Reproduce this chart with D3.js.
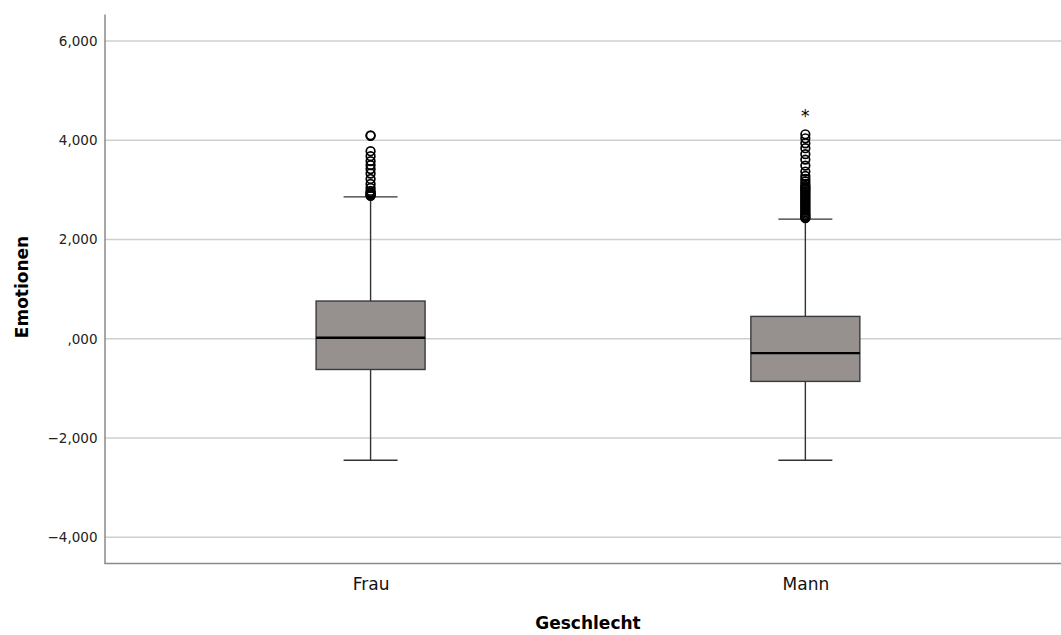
<!DOCTYPE html>
<html>
<head>
<meta charset="utf-8">
<script src="https://cdn.jsdelivr.net/npm/d3@7"></script>
<style>
  body { margin: 0; background: #fff; }
  text { font-family: "DejaVu Sans", sans-serif; }
</style>
</head>
<body>
<div id="chart"></div>
<script>
// box plot values
var categories = ["Frau", "Mann"];
var q1 = [-0.62, -0.86];
var median = [0.02, -0.29];
var q3 = [0.76, 0.45];
var whiskerLow = [-2.45, -2.45];
var whiskerHigh = [2.86, 2.41];
var outliersFrau = [4.10, 4.09, 3.78, 3.68, 3.58, 3.50, 3.42, 3.33, 3.22, 3.12, 3.04, 2.98, 2.95, 2.93, 2.91, 2.89, 2.88];
var outliersMann = [4.12, 4.04, 3.94, 3.84, 3.72, 3.61, 3.49, 3.37, 3.28, 3.22, 3.17, 3.12, 3.08, 3.05, 3.03,
                    3.00, 2.97, 2.94, 2.91, 2.88, 2.85, 2.82, 2.79, 2.76, 2.73, 2.70, 2.67, 2.64, 2.61,
                    2.58, 2.55, 2.52, 2.49, 2.47, 2.45, 2.43];
var extremesFrau = [];
var extremesMann = [4.57];
var yTicks = [-4, -2, 0, 2, 4, 6];

var width = 1061,
    height = 635,
    plotLeft = 104.5,
    plotTop = 14,
    plotBottom = 563.5,
    boxW = 109,
    capW = 54;

var svg = d3.select("#chart").append("svg")
    .attr("width", width)
    .attr("height", height);

var x = d3.scalePoint()
    .domain(categories)
    .range([plotLeft, width])
    .padding(0.6)
    .align(0.51);

var y = d3.scaleLinear()
    .domain([-4.53, 6.545])
    .range([plotBottom, plotTop]);

function fmt(d) {
    var a = Math.abs(d);
    return (d < 0 ? "\u2212" : "") + (a === 0 ? "" : a) + ",000";
}

// gridlines
svg.append("g")
    .selectAll("line")
    .data(yTicks)
    .enter().append("line")
    .attr("x1", plotLeft).attr("x2", width)
    .attr("y1", function(d) { return y(d); })
    .attr("y2", function(d) { return y(d); })
    .style("stroke", "#cfcfcf")
    .style("stroke-width", 1.5);

// y axis
var yAxis = svg.append("g")
    .attr("transform", "translate(" + plotLeft + ",0)")
    .call(d3.axisLeft(y).tickValues(yTicks).tickFormat(fmt).tickSize(0).tickPadding(7));
yAxis.select(".domain").style("stroke", "#8a8a8a").style("stroke-width", 1.5);
yAxis.selectAll("text").style("font-size", "13.5px").style("fill", "#222").style("font-family", "DejaVu Sans");

// x axis
var xAxis = svg.append("g")
    .attr("transform", "translate(0," + plotBottom + ")")
    .call(d3.axisBottom(x).tickSize(0).tickPadding(14));
xAxis.select(".domain").attr("d", "M" + plotLeft + ",0H" + width).style("stroke", "#8a8a8a").style("stroke-width", 1.5);
xAxis.selectAll("text").style("font-size", "17px").style("fill", "#111").style("font-family", "DejaVu Sans");

// axis titles
svg.append("text")
    .attr("transform", "translate(28,287) rotate(-90)")
    .attr("text-anchor", "middle")
    .style("font-size", "17px")
    .style("font-weight", "bold")
    .text("Emotionen");

svg.append("text")
    .attr("x", 588)
    .attr("y", 629)
    .attr("text-anchor", "middle")
    .style("font-size", "17px")
    .style("font-weight", "bold")
    .text("Geschlecht");

// boxes
var boxes = svg.append("g").selectAll("g")
    .data(categories)
    .enter().append("g");

boxes.append("line")
    .attr("x1", function(d) { return x(d); })
    .attr("x2", function(d) { return x(d); })
    .attr("y1", function(d, i) { return y(whiskerLow[i]); })
    .attr("y2", function(d, i) { return y(whiskerHigh[i]); })
    .style("stroke", "#333")
    .style("stroke-width", 1.4);

boxes.selectAll(".cap")
    .data(function(d, i) { return [[d, whiskerLow[i]], [d, whiskerHigh[i]]]; })
    .enter().append("line")
    .attr("class", "cap")
    .attr("x1", function(d) { return x(d[0]) - capW / 2; })
    .attr("x2", function(d) { return x(d[0]) + capW / 2; })
    .attr("y1", function(d) { return y(d[1]); })
    .attr("y2", function(d) { return y(d[1]); })
    .style("stroke", "#333")
    .style("stroke-width", 1.4);

boxes.append("rect")
    .attr("x", function(d) { return x(d) - boxW / 2; })
    .attr("y", function(d, i) { return y(q3[i]); })
    .attr("width", boxW)
    .attr("height", function(d, i) { return y(q1[i]) - y(q3[i]); })
    .style("fill", "#96918f")
    .style("stroke", "#3a3a3a")
    .style("stroke-width", 1.4);

boxes.append("line")
    .attr("x1", function(d) { return x(d) - boxW / 2; })
    .attr("x2", function(d) { return x(d) + boxW / 2; })
    .attr("y1", function(d, i) { return y(median[i]); })
    .attr("y2", function(d, i) { return y(median[i]); })
    .style("stroke", "#000")
    .style("stroke-width", 2.3);

// outliers
var outliers = [outliersFrau, outliersMann];
boxes.selectAll("circle")
    .data(function(d, i) { return outliers[i].map(function(v) { return [d, v]; }); })
    .enter().append("circle")
    .attr("cx", function(d) { return x(d[0]); })
    .attr("cy", function(d) { return y(d[1]); })
    .attr("r", 4.3)
    .style("fill", "none")
    .style("stroke", "#000")
    .style("stroke-width", 1.7);

var extremes = [extremesFrau, extremesMann];
boxes.selectAll(".extreme")
    .data(function(d, i) { return extremes[i].map(function(v) { return [d, v]; }); })
    .enter().append("text")
    .attr("class", "extreme")
    .attr("x", function(d) { return x(d[0]); })
    .attr("y", function(d) { return y(d[1]) + 10; })
    .attr("text-anchor", "middle")
    .style("font-size", "17px")
    .text("*");
</script>
</body>
</html>
